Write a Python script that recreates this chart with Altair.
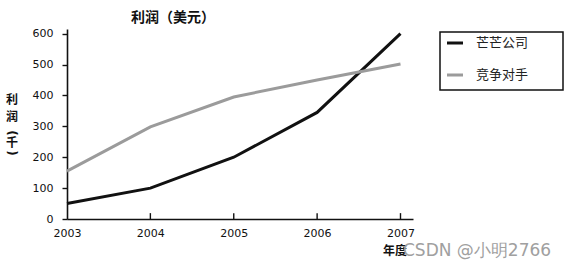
import altair as alt
import pandas as pd

years = [2003, 2004, 2005, 2006, 2007]
series_names = ["芒芒公司", "竞争对手"]
mangmang = [50, 100, 200, 345, 600]
rival = [155, 298, 395, 450, 502]
colors = ["#111111", "#9b9b9b"]
y_ticks = [0, 100, 200, 300, 400, 500, 600]

rows = []
for name, vals in zip(series_names, [mangmang, rival]):
    for yr, v in zip(years, vals):
        rows.append({"年度": yr, "利润": v, "公司": name})
df = pd.DataFrame(rows)

W, H = 346, 190
FONT = "DejaVu Sans"
CJK = "Noto Sans CJK SC"

x_scale = alt.Scale(domain=[2003, 2007.15], nice=False, zero=False)
y_scale = alt.Scale(domain=[0, 615], nice=False)

x_axis = alt.Axis(values=years, format="d", title=None, ticks=False,
                  labelFont=FONT, labelFontSize=11, labelColor="#111",
                  labelPadding=8, labelFlush=False, labelOverlap=False,
                  domainColor="#111", domainWidth=1.6, grid=False)
y_axis = alt.Axis(values=y_ticks, title=None, tickSize=5, tickColor="#111",
                  tickWidth=1.4, labelFont=FONT, labelFontSize=11,
                  labelColor="#111", labelPadding=9, labelOverlap=False,
                  labelFlush=False, domainColor="#111",
                  domainWidth=1.6, grid=False)

lines = alt.Chart(df).mark_line(strokeWidth=3).encode(
    x=alt.X("年度:Q", scale=x_scale, axis=x_axis),
    y=alt.Y("利润:Q", scale=y_scale, axis=y_axis),
    color=alt.Color("公司:N", scale=alt.Scale(domain=series_names, range=colors),
                    legend=None),
)

tick_df = pd.DataFrame({"年度": years[1:], "low": [0] * 4, "high": [19] * 4})
xticks = alt.Chart(tick_df).mark_rule(color="#111", strokeWidth=1.4).encode(
    x=alt.X("年度:Q", scale=x_scale, axis=x_axis),
    y=alt.Y("low:Q", scale=y_scale, axis=y_axis),
    y2="high:Q",
)

one = pd.DataFrame({"k": [0]})

def label(text, x, y, size, weight="normal", color="#111", font=CJK, align="center", **kw):
    return alt.Chart(one).mark_text(
        text=text, fontSize=size, fontWeight=weight, color=color, font=font,
        align=align, baseline="middle", **kw
    ).encode(x=alt.value(x), y=alt.value(y))

title = label("利润（美元）", 106, -11, 14, "bold")
ytitle = [
    label("利", -55, 71, 12, "bold"),
    label("润", -55, 88, 12, "bold"),
    label("(", -55, 104, 12, "bold", font=FONT, angle=90),
    label("千", -55, 114, 12, "bold"),
    label(")", -55, 124, 12, "bold", font=FONT, angle=90),
]
xtitle = label("年度", 328, 222, 12, "bold")
watermark = label("CSDN @小明2766", 336, 222, 17, color="#a0a0a0", font=FONT, align="left")

legend_box = alt.Chart(one).mark_rect(fill="white", stroke="#111", strokeWidth=1.5).encode(
    x=alt.value(373), x2=alt.value(496), y=alt.value(3), y2=alt.value(61)
)
legend_layers = [legend_box]
for i, (name, c) in enumerate(zip(series_names, colors)):
    yy = 14 + 32 * i
    legend_layers.append(
        alt.Chart(one).mark_rule(color=c, strokeWidth=3).encode(
            x=alt.value(380), x2=alt.value(396), y=alt.value(yy)
        )
    )
    legend_layers.append(label(name, 409, yy, 13, align="left", color="#222"))

chart = alt.layer(lines, xticks, title, *ytitle, xtitle, watermark, *legend_layers).properties(
    width=W, height=H,
    autosize=alt.AutoSizeParams(type="none"),
    padding={"left": 67, "top": 29, "right": 157, "bottom": 50},
    background="white",
).configure_view(stroke=None)

chart.save("out.html", embed_options={"renderer": "svg", "actions": False})
